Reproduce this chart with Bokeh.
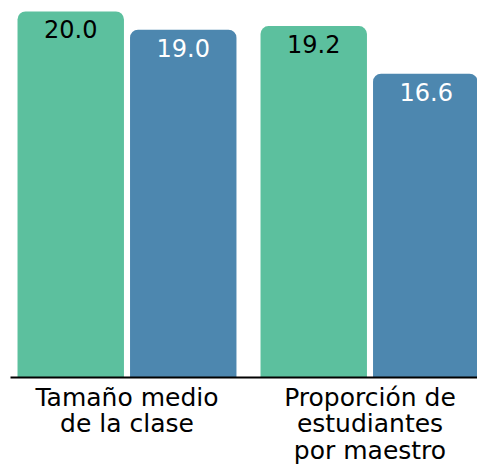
from bokeh.plotting import figure
from bokeh.models import ColumnDataSource, Range1d, FixedTicker
from bokeh.core.properties import value
from bokeh.embed import file_html
from bokeh.resources import INLINE

# Data
categories = ["Tamaño medio\nde la clase", "Proporción de\nestudiantes\npor maestro"]
series_names = ["A", "B"]
series_a = [20.0, 19.2]
series_b = [19.0, 16.6]
colors = ["#5cc09e", "#4d87af"]
text_colors = ["#000000", "#ffffff"]

FONT = "DejaVu Sans"

p = figure(frame_width=467, frame_height=377, output_backend="svg", toolbar_location=None,
           x_range=Range1d(-0.4794, 1.4424), y_range=Range1d(0, 20.60),
           min_border_left=10, min_border_right=0, min_border_top=0, min_border_bottom=0,
           y_axis_location=None)
p.outline_line_color = None
p.xgrid.visible = False
p.ygrid.visible = False
p.background_fill_color = "white"
p.border_fill_color = "white"

offset = 0.2315
bw = 0.438
groups = list(range(len(categories)))
for si, vals in enumerate([series_a, series_b]):
    xs = [g + (offset if si == 1 else -offset) for g in groups]
    src = ColumnDataSource(dict(x=xs, top=vals, label=[f"{v:.1f}" for v in vals]))
    p.vbar(x="x", top="top", bottom=0, width=bw, source=src,
           fill_color=colors[si], line_color=None, border_radius=(8, 8, 0, 0))
    p.text(x="x", y="top", text="label", source=src, text_align="center",
           text_baseline="top", y_offset=9, text_color=text_colors[si],
           text_font=value(FONT), text_font_size="24px")

ax = p.xaxis[0]
ax.ticker = FixedTicker(ticks=groups)
ax.major_label_overrides = {g: c for g, c in zip(groups, categories)}
ax.major_tick_line_color = None
ax.major_tick_out = 0
ax.major_tick_in = 0
ax.minor_tick_line_color = None
ax.minor_tick_out = 0
ax.axis_line_color = "black"
ax.axis_line_width = 2
ax.major_label_text_font = FONT
ax.major_label_text_font_size = "25px"
ax.major_label_text_color = "black"
ax.major_label_standoff = 5
ax.major_label_text_line_height = 0.92

open("out.html", "w").write(file_html(p, INLINE))
